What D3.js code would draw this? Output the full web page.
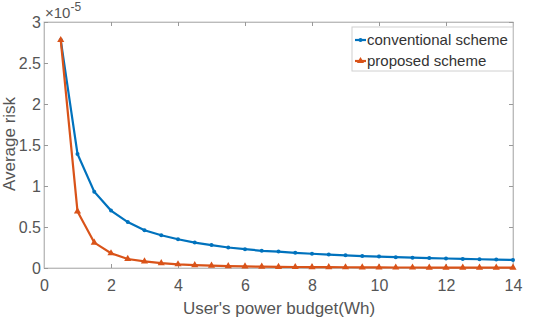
<!DOCTYPE html>
<html lang="en">
<head>
<meta charset="utf-8">
<title>Average risk</title>
<style>
  body { margin: 0; padding: 0; background: #fff; }
  svg { display: block; font-family: "Liberation Sans", Arial, sans-serif; }
  .tick text { fill: #555; font-size: 16px; }
  .tick line { stroke: #999; }
  .domain { stroke: #bbb; }
</style>
</head>
<body>
<svg id="chart" width="535" height="321"></svg>
<script src="https://d3js.org/d3.v7.min.js"></script>
<script>
// power budget (Wh)
const budget = [0.5, 1, 1.5, 2, 2.5, 3, 3.5, 4, 4.5, 5, 5.5, 6, 6.5, 7, 7.5,
  8, 8.5, 9, 9.5, 10, 10.5, 11, 11.5, 12, 12.5, 13, 13.5, 14];
// average risk, units of 1e-5
const conventional = [2.78, 1.39, 0.93, 0.70, 0.56, 0.46, 0.40, 0.35, 0.31, 0.28,
  0.25, 0.23, 0.21, 0.20, 0.185, 0.174, 0.164, 0.155, 0.146, 0.139,
  0.132, 0.126, 0.121, 0.116, 0.111, 0.107, 0.103, 0.099];
const proposed = [2.78, 0.69, 0.31, 0.18, 0.11, 0.08, 0.06, 0.045, 0.035, 0.028,
  0.023, 0.019, 0.016, 0.014, 0.012, 0.011, 0.010, 0.009, 0.008, 0.007,
  0.006, 0.006, 0.005, 0.005, 0.004, 0.004, 0.004, 0.004];
const xTicks = [0, 2, 4, 6, 8, 10, 12, 14];
const yTicks = [0, 0.5, 1, 1.5, 2, 2.5, 3];
const seriesNames = ['conventional scheme', 'proposed scheme'];
const seriesColors = ['#0072BD', '#D95319'];

const m = { left: 44, top: 22, right: 513, bottom: 268 };
const svg = d3.select('#chart');

const x = d3.scaleLinear().domain([0, 14]).range([m.left, m.right]);
const y = d3.scaleLinear().domain([0, 3]).range([m.bottom, m.top]);
const fmt = d3.format('~g');

// frame
svg.append('rect')
  .attr('x', m.left).attr('y', m.top)
  .attr('width', m.right - m.left).attr('height', m.bottom - m.top)
  .attr('fill', 'none').attr('stroke', '#c8c8c8');

const xAxis = svg.append('g').attr('transform', `translate(0,${m.bottom})`)
  .call(d3.axisBottom(x).tickValues(xTicks).tickFormat(fmt)
    .tickSizeInner(-4).tickSizeOuter(0).tickPadding(12));
svg.append('g').attr('transform', `translate(0,${m.top})`)
  .call(d3.axisTop(x).tickValues(xTicks).tickSizeInner(-4).tickSizeOuter(0).tickFormat(''));
const yAxis = svg.append('g').attr('transform', `translate(${m.left},0)`)
  .call(d3.axisLeft(y).tickValues(yTicks).tickFormat(fmt)
    .tickSizeInner(-4).tickSizeOuter(0).tickPadding(3));
svg.append('g').attr('transform', `translate(${m.right},0)`)
  .call(d3.axisRight(y).tickValues(yTicks).tickSizeInner(-4).tickSizeOuter(0).tickFormat(''));
xAxis.select('.domain').attr('stroke', '#999');
yAxis.select('.domain').attr('stroke', '#999');

// exponent label
const expo = svg.append('text').attr('x', m.left + 1).attr('y', 18)
  .attr('fill', '#555').attr('font-size', 15);
expo.append('tspan').text('×10');
expo.append('tspan').attr('dy', -7).attr('font-size', 12).text('-5');

// axis titles
svg.append('text').attr('x', 279).attr('y', 314)
  .attr('text-anchor', 'middle').attr('fill', '#555').attr('font-size', 17)
  .text("User's power budget(Wh)");
svg.append('text').attr('transform', `translate(15,144) rotate(-90)`)
  .attr('text-anchor', 'middle').attr('fill', '#555').attr('font-size', 17)
  .text('Average risk');

const line = d3.line().x(d => x(d[0])).y(d => y(d[1]));
const series = [conventional, proposed].map(v => budget.map((b, i) => [b, v[i]]));
const tri = d3.symbol().type(d3.symbolTriangle).size(22);

series.forEach((pts, si) => {
  const g = svg.append('g');
  g.append('path').datum(pts).attr('d', line)
    .attr('fill', 'none').attr('stroke', seriesColors[si]).attr('stroke-width', 2.2);
  if (si === 0) {
    g.selectAll('circle').data(pts).join('circle')
      .attr('cx', d => x(d[0])).attr('cy', d => y(d[1])).attr('r', 2)
      .attr('fill', seriesColors[si]);
  } else {
    g.selectAll('path.m').data(pts).join('path').attr('class', 'm')
      .attr('transform', d => `translate(${x(d[0])},${y(d[1])})`)
      .attr('d', tri).attr('fill', seriesColors[si]);
  }
});

// legend
const lg = svg.append('g');
lg.append('rect').attr('x', 352).attr('y', 27).attr('width', 161).attr('height', 44)
  .attr('fill', '#fff').attr('stroke', '#d0d0d0');
seriesNames.forEach((name, i) => {
  const ly = 40 + i * 21;
  lg.append('line').attr('x1', 355).attr('x2', 366).attr('y1', ly).attr('y2', ly)
    .attr('stroke', seriesColors[i]).attr('stroke-width', 2.2);
  if (i === 0) {
    lg.append('circle').attr('cx', 360.5).attr('cy', ly).attr('r', 2).attr('fill', seriesColors[i]);
  } else {
    lg.append('path').attr('transform', `translate(360.5,${ly})`).attr('d', tri).attr('fill', seriesColors[i]);
  }
  lg.append('text').attr('x', 367).attr('y', ly + 5).attr('fill', '#333').attr('font-size', 15)
    .text(name);
});
</script>
</body>
</html>
